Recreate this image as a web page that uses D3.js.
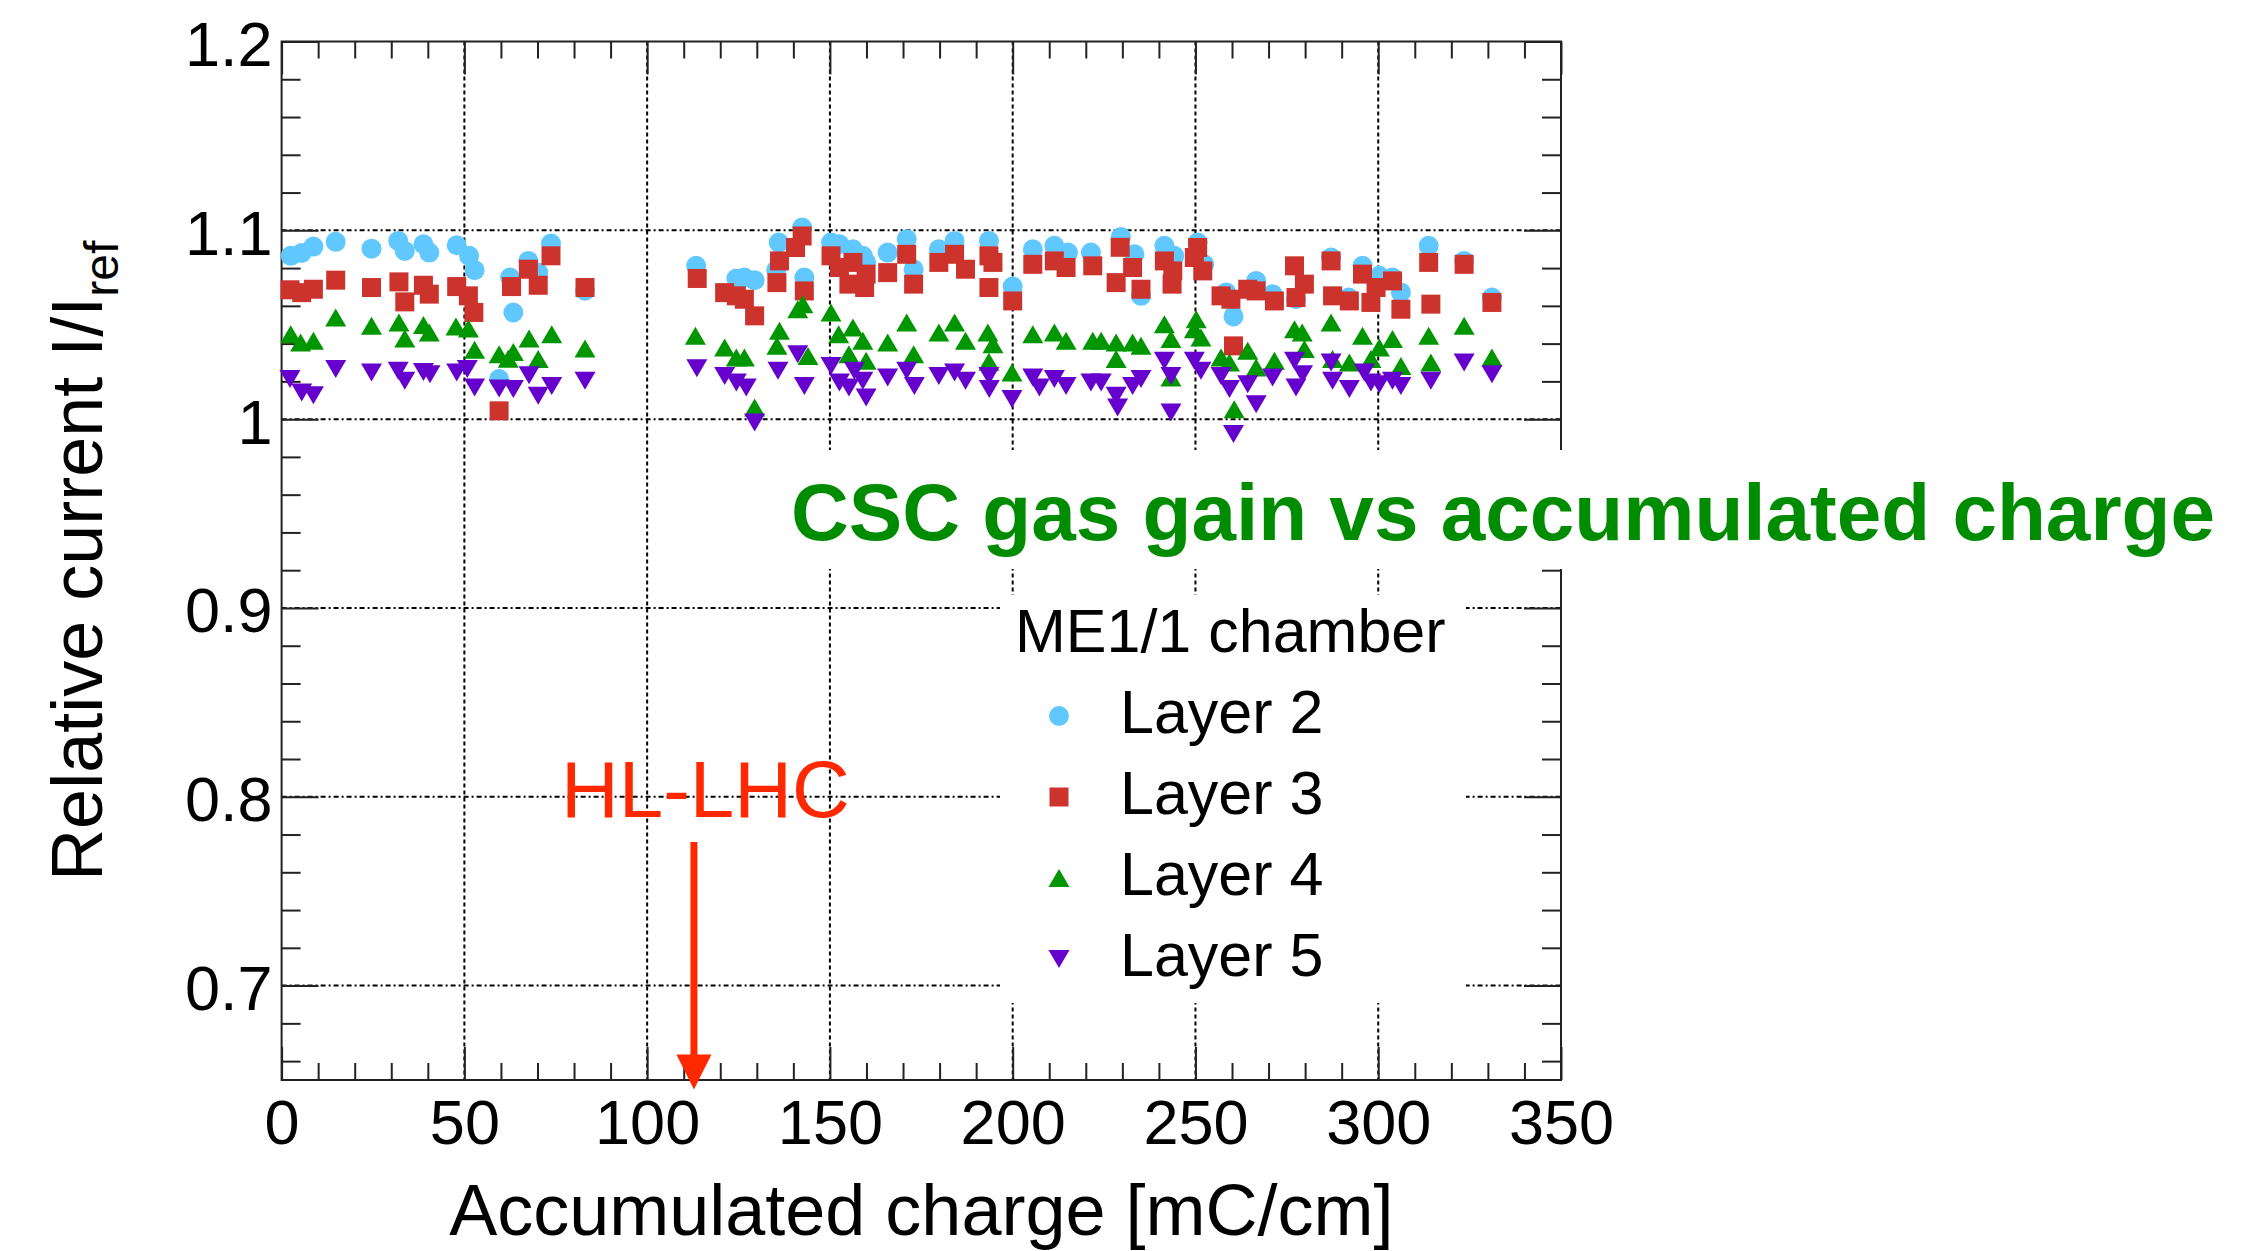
<!DOCTYPE html>
<html>
<head>
<meta charset="utf-8">
<script src="https://cdn.jsdelivr.net/npm/d3@7"></script>
<style>
  body { margin: 0; background: #fff; }
  svg text { font-family: "Liberation Sans", Arial, Helvetica, sans-serif; }
</style>
</head>
<body>
<div id="chart"></div>
<script>
// relative current vs accumulated charge: [mC/cm, I/Iref]
var layer2 = [[2.5,1.0865],[5.5,1.088],[8.7,1.0914],[14.8,1.0939],[24.6,1.0903],[31.9,1.0944],[33.7,1.0891],[38.8,1.0926],[40.4,1.0882],[47.9,1.0921],[51.3,1.0865],[52.8,1.0789],[59.5,1.0212],[62.5,1.075],[63.4,1.0565],[67.5,1.0838],[70.2,1.0776],[73.7,1.093],[83,1.068],
  [113.4,1.0812],[124.4,1.0745],[126.6,1.075],[129.4,1.0736],[135.3,1.079],[136,1.0935],[142.4,1.1015],[143,1.075],[150.3,1.0935],[152.6,1.0926],[156.3,1.09],[159,1.0865],[159.9,1.083],[165.8,1.0882],[171,1.0953],[172.9,1.0794],[179.8,1.09],[184.1,1.0944],[193.5,1.0944],[200,1.0702],[205.5,1.09],[211.4,1.0918],[215.1,1.0882],[221.4,1.0882],[229.6,1.0965],[233.3,1.0873],[235.1,1.0653],[241.5,1.0918],[244.2,1.0865],[250.6,1.0935],[252.4,1.082],[258.4,1.0671],[260.4,1.0544],[266.6,1.0732],[271.1,1.0662],[277.5,1.0635],[287.1,1.0856],[291.9,1.0644],[295.7,1.0812],[300.3,1.0759],[303.9,1.075],[306.2,1.0671],[313.8,1.0918],[323.5,1.0838],[331.1,1.0644]];

var layer3 = [[2.3,1.0685],[5.5,1.067],[8.7,1.0688],[14.8,1.0736],[24.6,1.0697],[32.1,1.0727],[33.7,1.0621],[38.8,1.0709],[40.4,1.0662],[47.9,1.0702],[51.1,1.0653],[52.6,1.0565],[59.5,1.0044],[62.9,1.0702],[67.5,1.0794],[70.2,1.0709],[73.7,1.0865],[83,1.0697],
  [113.7,1.0745],[121.2,1.067],[124.4,1.0653],[126.6,1.0635],[129.4,1.0547],[135.5,1.0723],[136.2,1.0838],[140.6,1.0909],[142.4,1.097],[143,1.0679],[150.3,1.0865],[152.6,1.0803],[155.2,1.0715],[156.3,1.083],[159.5,1.0697],[159.9,1.0768],[165.8,1.0776],[171,1.0873],[172.9,1.0715],[179.8,1.083],[184.1,1.0873],[187.1,1.0794],[193.5,1.0865],[194.6,1.083],[193.5,1.0697],[200,1.0626],[205.5,1.082],[211.4,1.0838],[214.6,1.0803],[221.9,1.0812],[228.3,1.0723],[229.4,1.091],[232.8,1.0803],[235.1,1.0688],[241.5,1.0838],[243.8,1.0785],[243.6,1.0715],[249.7,1.0856],[250.6,1.0909],[252,1.0785],[257,1.0653],[259.7,1.0635],[260.4,1.0388],[264.3,1.0688],[266.6,1.0679],[271.6,1.0626],[277.1,1.0812],[279.8,1.0715],[277.5,1.0644],[287.1,1.0838],[287.5,1.0653],[292.1,1.0626],[295.7,1.0768],[298,1.0618],[299.4,1.0697],[303.9,1.0732],[306.2,1.0582],[313.8,1.083],[314.4,1.0609],[323.5,1.082],[331.1,1.0618]];

var layer4 = [[2.5,1.045],[5.2,1.0406],[8.7,1.0415],[14.8,1.0538],[24.6,1.0494],[32.1,1.0512],[33.7,1.0427],[38.8,1.0498],[40.4,1.0459],[47.7,1.0491],[51.1,1.048],[52.8,1.0367],[59.5,1.0344],[62,1.032],[63.4,1.0356],[67.7,1.0427],[70.2,1.0318],[73.9,1.045],[83,1.0374],
  [113.2,1.0441],[121.2,1.038],[124.4,1.0326],[126.6,1.0326],[129.4,1.0062],[135.5,1.0388],[136.2,1.0468],[141.2,1.0582],[142.6,1.0609],[144,1.0335],[150.3,1.0565],[152.4,1.045],[155.2,1.0344],[156.3,1.0485],[159,1.0415],[159.9,1.0309],[165.8,1.0406],[171,1.0512],[172.9,1.0344],[179.8,1.0459],[184.1,1.0512],[187.1,1.0415],[193.2,1.0459],[194.6,1.0397],[193.5,1.0304],[199.8,1.0247],[205.5,1.045],[211.4,1.0459],[214.6,1.0415],[221.9,1.0415],[224.2,1.0415],[228.3,1.0406],[228.3,1.0318],[232.8,1.0406],[235.1,1.0388],[241.5,1.0503],[243.3,1.0424],[243.3,1.022],[249.7,1.0476],[250.2,1.0529],[251.5,1.0432],[257,1.0326],[259.3,1.03],[260.6,1.0053],[264.3,1.0362],[266.6,1.0274],[271.6,1.0309],[277.1,1.0476],[279.2,1.0459],[279.8,1.0371],[287.1,1.0512],[287.5,1.0318],[292.1,1.03],[295.7,1.0441],[298,1.0318],[300.3,1.0379],[303.9,1.0424],[306.2,1.0282],[313.8,1.0441],[314.4,1.03],[323.5,1.0494],[331.1,1.0326]];

var layer5 = [[2.3,1.0212],[5.5,1.0141],[8.7,1.0127],[14.8,1.0265],[24.6,1.0247],[31.9,1.0256],[33.7,1.0203],[38.8,1.025],[40.6,1.0238],[47.9,1.0247],[50.8,1.0265],[52.8,1.0168],[59.5,1.0162],[63.4,1.0159],[67.7,1.0233],[70.2,1.0124],[73.9,1.0176],[83,1.0203],
  [113.6,1.027],[121.2,1.0229],[124.4,1.0194],[127.1,1.0168],[129.4,0.9982],[135.8,1.0256],[141.2,1.0344],[143,1.0176],[150.3,1.0282],[152.6,1.0194],[155.2,1.0168],[156.7,1.0256],[159,1.0203],[159.9,1.0115],[165.8,1.022],[171,1.0256],[173.1,1.0176],[179.8,1.0229],[184.1,1.0247],[187.1,1.0203],[193.5,1.0229],[193.6,1.0159],[199.8,1.0106],[205.5,1.022],[207.3,1.0168],[211.4,1.0212],[214.6,1.0176],[221.4,1.0194],[224.2,1.0194],[228.3,1.0124],[228.7,1.0062],[232.8,1.0176],[235.1,1.0212],[241.5,1.0309],[243.3,1.0229],[243.3,1.0035],[249.7,1.0309],[251.5,1.0256],[257,1.0229],[259.3,1.0159],[260.4,0.9921],[264.3,1.0185],[266.6,1.0079],[271.1,1.022],[277.1,1.0309],[279.3,1.0238],[277.5,1.0168],[287.1,1.03],[287.5,1.0203],[292.1,1.0159],[296.2,1.0247],[298,1.0194],[300.3,1.0185],[303.9,1.0203],[306.2,1.0176],[314.4,1.0203],[323.5,1.03],[331.1,1.0238]];

// axis ticks and labels
var xMajor = [0, 50, 100, 150, 200, 250, 300, 350];
var yMajor = [0.7, 0.8, 0.9, 1.0, 1.1, 1.2];
var xGrid = [50, 100, 150, 200, 250, 300];
var yGrid = [0.7, 0.8, 0.9, 1.0, 1.1];
var legendTitle = 'ME1/1 chamber';
var legendLabels = ['Layer 2', 'Layer 3', 'Layer 4', 'Layer 5'];
var hlLhc = 112.8; // where the arrow points on the charge axis

var width = 2264;
var height = 1251;
var plot = {left: 281.6, right: 1561, top: 41.5, bottom: 1080};
var frameColor = '#222';

var x = d3.scaleLinear().domain([0, 350]).range([plot.left, plot.right]);
var y = d3.scaleLinear().domain([0.65, 1.2]).range([plot.bottom, plot.top]);

var xMinor = d3.range(0, 351, 10).filter(function(d){ return d % 50 !== 0; });
var yMinor = d3.range(33, 61).filter(function(i){ return i % 5 !== 0; }).map(function(i){ return i * 0.02; });

var svg = d3.select('#chart').append('svg')
            .attr('width', width)
            .attr('height', height);

svg.append('rect').attr('width', width).attr('height', height).attr('fill', '#fff');

// dashed grid
svg.append('g').selectAll('line').data(xGrid)
  .enter().append('line')
  .attr('x1', function(d){ return x(d); })
  .attr('x2', function(d){ return x(d); })
  .attr('y1', plot.top)
  .attr('y2', plot.bottom)
  .attr('stroke', '#000')
  .attr('stroke-width', 2)
  .attr('stroke-dasharray', '4,3');

svg.append('g').selectAll('line').data(yGrid)
  .enter().append('line')
  .attr('x1', plot.left)
  .attr('x2', plot.right)
  .attr('y1', function(d){ return y(d); })
  .attr('y2', function(d){ return y(d); })
  .attr('stroke', '#000')
  .attr('stroke-width', 2)
  .attr('stroke-dasharray', '5,3,2,3');

// axes, ticks pointing inward on all four sides
var styleAxis = function(g){
  g.select('.domain').remove();
  g.selectAll('line').attr('stroke', frameColor).attr('stroke-width', 2);
  g.attr('font-size', 63).attr('font-family', '"Liberation Sans", Arial, Helvetica, sans-serif');
  g.selectAll('text').attr('fill', '#000');
};

var yFormat = function(d){ return Math.abs(d - 1) < 1e-9 ? '1' : d3.format('.1f')(d); };

svg.append('g').attr('transform', 'translate(0,' + plot.bottom + ')')
  .call(d3.axisBottom(x).tickValues(xMajor).tickSizeInner(-33).tickSizeOuter(0).tickPadding(19).tickFormat(d3.format('d')))
  .call(styleAxis);
svg.append('g').attr('transform', 'translate(0,' + plot.bottom + ')')
  .call(d3.axisBottom(x).tickValues(xMinor).tickSize(-17).tickFormat(''))
  .call(styleAxis);
svg.append('g').attr('transform', 'translate(0,' + plot.top + ')')
  .call(d3.axisTop(x).tickValues(xMajor).tickSize(-33).tickFormat(''))
  .call(styleAxis);
svg.append('g').attr('transform', 'translate(0,' + plot.top + ')')
  .call(d3.axisTop(x).tickValues(xMinor).tickSize(-17).tickFormat(''))
  .call(styleAxis);

var leftAxis = svg.append('g').attr('transform', 'translate(' + plot.left + ',0)')
  .call(d3.axisLeft(y).tickValues(yMajor).tickSizeInner(-37).tickSizeOuter(0).tickPadding(9).tickFormat(yFormat))
  .call(styleAxis);
leftAxis.selectAll('text').attr('dy', '0.38em');
svg.append('g').attr('transform', 'translate(' + plot.left + ',0)')
  .call(d3.axisLeft(y).tickValues(yMinor).tickSize(-19).tickFormat(''))
  .call(styleAxis);
svg.append('g').attr('transform', 'translate(' + plot.right + ',0)')
  .call(d3.axisRight(y).tickValues(yMajor).tickSize(-37).tickFormat(''))
  .call(styleAxis);
svg.append('g').attr('transform', 'translate(' + plot.right + ',0)')
  .call(d3.axisRight(y).tickValues(yMinor).tickSize(-19).tickFormat(''))
  .call(styleAxis);

svg.append('rect')
  .attr('x', plot.left)
  .attr('y', plot.top)
  .attr('width', plot.right - plot.left)
  .attr('height', plot.bottom - plot.top)
  .attr('fill', 'none')
  .attr('stroke', frameColor)
  .attr('stroke-width', 2);

// axis titles
svg.append('text')
  .attr('x', (plot.left + plot.right) / 2)
  .attr('y', 1235)
  .attr('text-anchor', 'middle')
  .attr('font-size', 72)
  .text('Accumulated charge [mC/cm]');

var yTitle = svg.append('text')
  .attr('transform', 'translate(102,' + ((plot.top + plot.bottom) / 2) + ') rotate(-90)')
  .attr('text-anchor', 'middle')
  .attr('font-size', 72);
yTitle.append('tspan').text('Relative current I/I');
yTitle.append('tspan').attr('font-size', 48).attr('dy', 16).text('ref');

// marker shapes, about 20px across
var markerPath = {
  circle: d3.symbol(d3.symbolCircle).size(Math.PI * 100)(),
  square: d3.symbol(d3.symbolSquare).size(19 * 19)(),
  up: 'M0,-9L10.5,9L-10.5,9Z',
  down: 'M0,9L10.5,-9L-10.5,-9Z'
};

var series = [
  {data: layer2, shape: 'circle', color: '#60c8ff'},
  {data: layer3, shape: 'square', color: '#cc332d'},
  {data: layer4, shape: 'up', color: '#009600'},
  {data: layer5, shape: 'down', color: '#6600cc'}
];

// legend box hides the grid behind it
svg.append('rect')
  .attr('x', 1000).attr('y', 595)
  .attr('width', 466).attr('height', 408)
  .attr('fill', '#fff');

svg.append('text')
  .attr('x', 1015).attr('y', 652)
  .attr('font-size', 61)
  .text(legendTitle);

var legendRows = svg.append('g').selectAll('g').data(series)
  .enter().append('g')
  .attr('transform', function(d, i){ return 'translate(1059,' + (716 + i * 81) + ')'; });
legendRows.append('path')
  .attr('d', function(d){ return markerPath[d.shape]; })
  .attr('fill', function(d){ return d.color; });
legendRows.append('text')
  .attr('x', 61).attr('y', 17)
  .attr('font-size', 61)
  .text(function(d, i){ return legendLabels[i]; });

// data points, layer 2 first so later layers sit on top
series.forEach(function(s){
  svg.append('g').selectAll('path').data(s.data)
    .enter().append('path')
    .attr('d', markerPath[s.shape])
    .attr('transform', function(d){ return 'translate(' + x(d[0]) + ',' + y(d[1]) + ')'; })
    .attr('fill', s.color);
});

// HL-LHC arrow
var arrowX = x(hlLhc);
var tipY = y(0.645);
svg.append('line')
  .attr('x1', arrowX).attr('x2', arrowX)
  .attr('y1', y(0.776)).attr('y2', tipY - 30)
  .attr('stroke', '#ff2800')
  .attr('stroke-width', 7);
svg.append('path')
  .attr('d', 'M' + (arrowX - 17.5) + ',' + (tipY - 35) + 'L' + (arrowX + 17.5) + ',' + (tipY - 35) + 'L' + arrowX + ',' + tipY + 'Z')
  .attr('fill', '#ff2800');
svg.append('text')
  .attr('x', arrowX - 133).attr('y', 817)
  .attr('font-size', 80)
  .attr('fill', '#ff2800')
  .text('HL-LHC');

// title on its own white band, over the frame
svg.append('rect')
  .attr('x', 780).attr('y', 450)
  .attr('width', 1448).attr('height', 119)
  .attr('fill', '#fff');
svg.append('text')
  .attr('x', 791).attr('y', 540)
  .attr('font-size', 80)
  .attr('font-weight', 'bold')
  .attr('fill', '#008c00')
  .attr('textLength', 1424)
  .attr('lengthAdjust', 'spacingAndGlyphs')
  .text('CSC gas gain vs accumulated charge');
</script>
</body>
</html>
